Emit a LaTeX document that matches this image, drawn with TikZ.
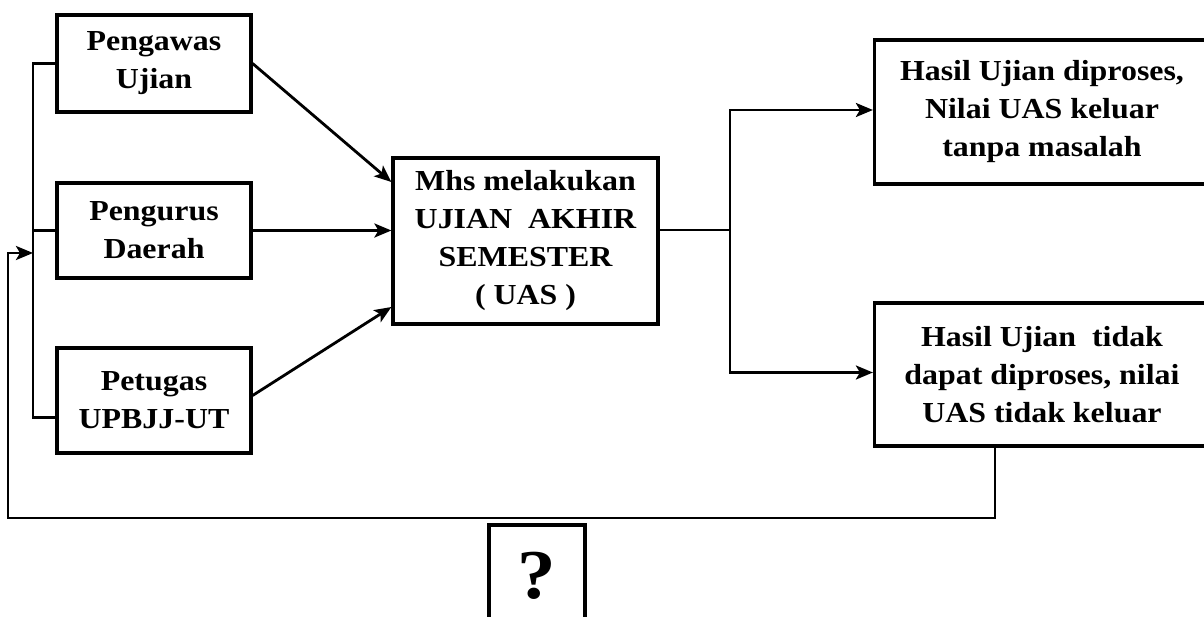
\documentclass[tikz,border=0pt]{standalone}
\usepackage{fontspec}
\setmainfont{Liberation Serif}[FakeStretch=1.1]
\usetikzlibrary{arrows.meta,calc}
\begin{document}
\begin{tikzpicture}[x=1pt,y=-1pt,
  box/.style={draw, line width=3.2pt, align=center, inner sep=0pt,
    font=\bfseries\fontsize{29}{38}\selectfont},
  conn/.style={line width=2.8pt},
  arr/.style={conn, -{Stealth[length=17pt,width=14pt,inset=4pt]}},
  qmark/.style={font=\bfseries\fontsize{70}{70}\selectfont, inner sep=0pt}]
\useasboundingbox (0,0) rectangle (1204,617);
\fill[white] (0,0) rectangle (1204,617);

% left boxes
\node[box, minimum width=194pt, minimum height=97pt] (p1) at (154,63.5) {Pengawas\\Ujian};
\node[box, minimum width=194pt, minimum height=95pt] (p2) at (154,230.5) {Pengurus\\Daerah};
\node[box, minimum width=194pt, minimum height=105pt] (p3) at (154,400.5) {Petugas\\UPBJJ-UT};

% centre box
\node[box, minimum width=265pt, minimum height=166pt] (c) at (525.5,241)
  {Mhs melakukan\\UJIAN~ AKHIR\\SEMESTER\\( UAS )};

% right boxes (cut by the right edge)
\node[box, minimum width=335pt, minimum height=144pt] (r1) at (1042,112)
  {\raisebox{5pt}{\parbox{335pt}{\centering Hasil Ujian diproses,\\Nilai UAS keluar\\tanpa masalah}}};
\node[box, minimum width=335pt, minimum height=143pt] (r2) at (1042,374.5)
  {\raisebox{9pt}{\parbox{335pt}{\centering Hasil Ujian~ tidak\\dapat diproses, nilai\\UAS tidak keluar}}};

% question box (cut by the bottom edge)
\node[box, minimum width=96pt, minimum height=115pt] (q) at (537,582.5) {};
\node[qmark] (qm) at ([yshift=-52pt]q.north) {?};

% coordinates
\coordinate (bj) at (33,253);
\coordinate (fl) at (8,518);
\coordinate (s) at (730,230);

% left bracket
\draw[conn] (p1.west) -| (bj) |- ([yshift=-17pt]p3.west);
\draw[conn] (p2.west) -- (p2.west -| bj);

% feedback loop
\draw[arr] ([xshift=-47pt]r2.south) |- (fl) |- (bj);

% inputs to centre
\draw[arr] (p1.east) -- ([yshift=59pt]c.west);
\draw[arr] (p2.east) -- (p2.east -| c.west);
\draw[arr] ([yshift=5pt]p3.east) -- ([yshift=-66pt]c.west);

% outputs
\draw[conn] ([yshift=11pt]c.east) -- (s);
\draw[arr] (s) |- ([yshift=2pt]r1.west);
\draw[arr] (s) |- ([yshift=2pt]r2.west);
\end{tikzpicture}
\end{document}
